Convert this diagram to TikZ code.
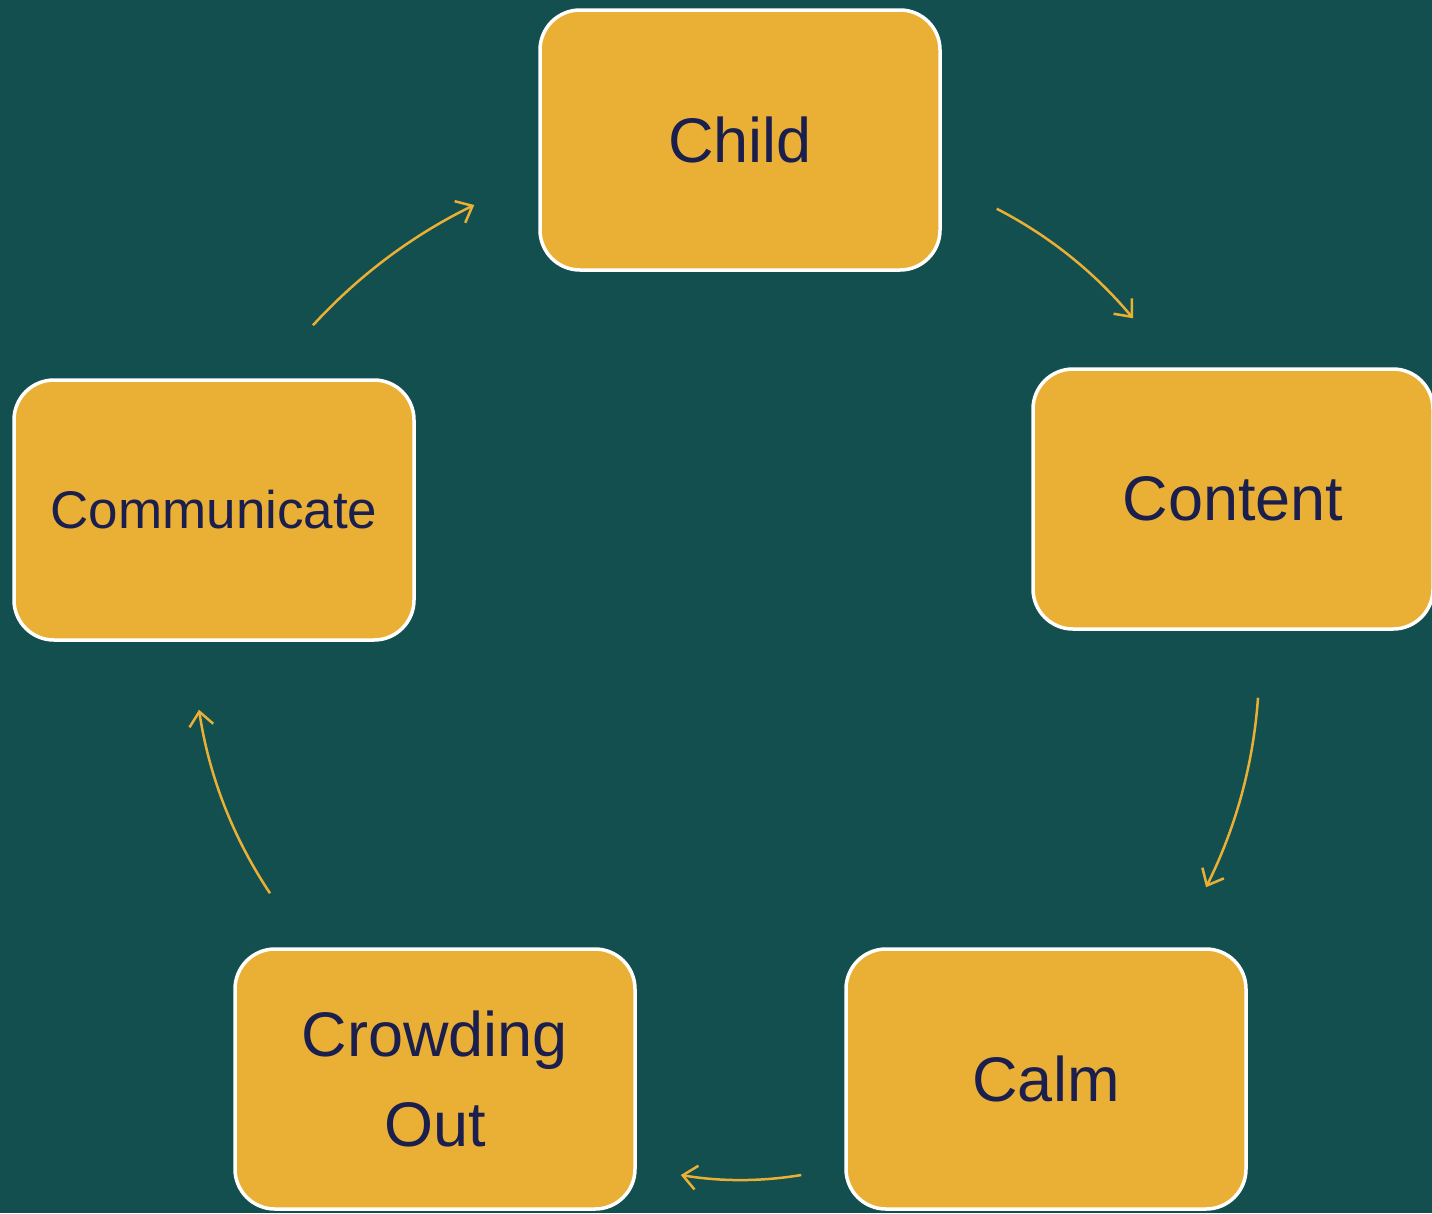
\documentclass[tikz,border=0pt]{standalone}
\usepackage{fontspec}
\setmainfont{Liberation Sans}
\usetikzlibrary{arrows.meta,calc}
\definecolor{bg}{HTML}{134F4F}
\definecolor{boxfill}{HTML}{EAB035}
\definecolor{txt}{HTML}{1B1F4E}
\definecolor{arr}{HTML}{EAB035}
\tikzset{
  stepbox/.style={draw=white, line width=3.5pt, fill=boxfill, rounded corners=40pt,
    minimum width=400pt, minimum height=260pt, inner sep=0pt, text=txt,
    font=\fontsize{63}{90}\selectfont, align=center},
  flow/.style={draw=arr, line width=2.5pt, -{Straight Barb[length=14pt,width=24pt,line width=2.5pt]}}
}
\begin{document}
\begin{tikzpicture}[x=1pt,y=-1pt]
\fill[bg] (0,0) rectangle (1432,1213);
\useasboundingbox (0,0) rectangle (1432,1213);
\node[stepbox] (child) at (740,140) {Child};
\node[stepbox] (content) at (1233,499) {Content};
\node[stepbox] (calm) at (1046,1079) {Calm};
\node[stepbox] (crowd) at (435,1079) {Crowding\\Out};
\node[stepbox, font=\fontsize{53}{64}\selectfont] (comm) at (214,510) {Communicate};
% arrow end points relative to boxes
\coordinate (a1s) at ($(child.south east)+(55,-63)$);
\coordinate (a1e) at ($(content.north)+(-100,-49)$);
\coordinate (a2s) at ($(content.south)+(25,67)$);
\coordinate (a2e) at ($(calm.north)+(160,-60)$);
\coordinate (a3s) at ($(calm.west)+(-43,96)$);
\coordinate (a3e) at ($(crowd.east)+(44,96)$);
\coordinate (a4s) at ($(crowd.north)+(-165,-54)$);
\coordinate (a4e) at ($(comm.south)+(-15,68)$);
\coordinate (a5s) at ($(comm.north)+(99,-53)$);
\coordinate (a5e) at ($(child.west)+(-64,65)$);
% quadratic control points
\coordinate (q1) at (1075,249);
\coordinate (q2) at (1251,797);
\coordinate (q3) at (741,1185);
\coordinate (q4) at (214,809);
\coordinate (q5) at (382,250);
\foreach \i in {1,...,5}{
  \draw[flow] (a\i s) .. controls ($(a\i s)!2/3!(q\i)$) and ($(a\i e)!2/3!(q\i)$) .. (a\i e);
}
\end{tikzpicture}
\end{document}
